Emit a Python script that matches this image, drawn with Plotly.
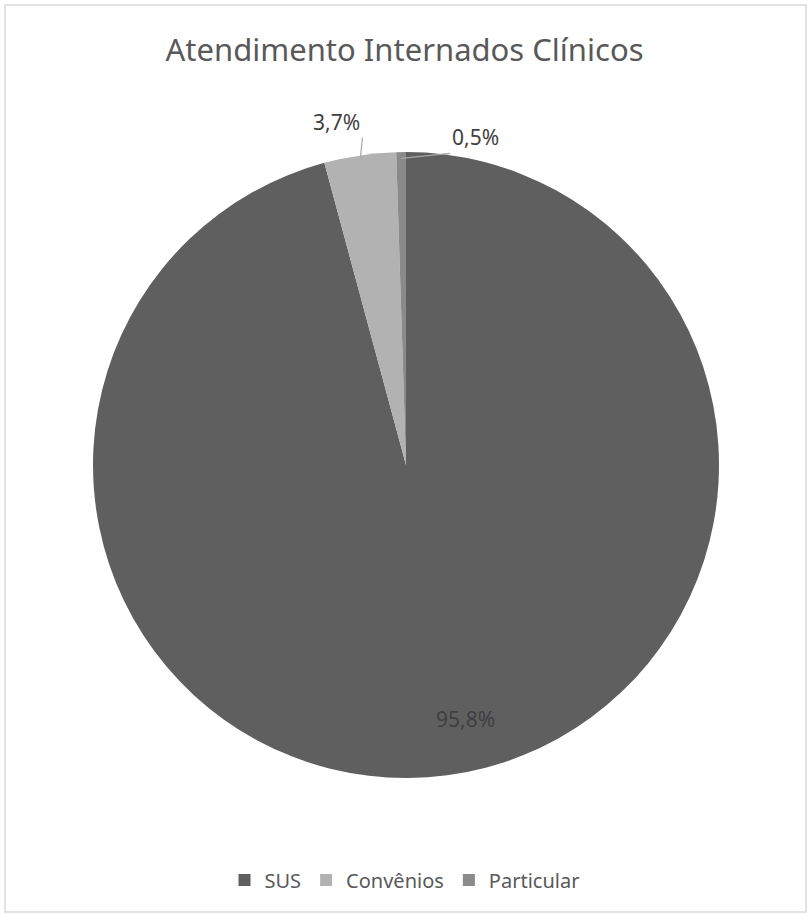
import math
import plotly.graph_objects as go

categories = ["SUS", "Convênios", "Particular"]
values = [95.8, 3.7, 0.5]
colors = ["#5f5f5f", "#b2b2b2", "#8a8a8a"]
title_text = "Atendimento Internados Clínicos"

W, H = 809, 915
cx, cy, r = 406, 465, 313
FONT = "Noto Sans"

fig = go.Figure(go.Pie(
    labels=categories,
    values=values,
    sort=False,
    direction="clockwise",
    rotation=0,
    marker=dict(colors=colors, line=dict(color="#ffffff", width=0)),
    textinfo="none",
    hoverinfo="label+percent",
    domain=dict(x=[(cx - r) / W, (cx + r) / W], y=[(H - cy - r) / H, (H - cy + r) / H]),
))

# label placement (derived from the data: mid-angle of each slice)
total = sum(values)
label_style = [
    # radial fraction, arrow?, ax, ay, xanchor, yanchor, xshift
    dict(rf=0.82, arrow=False, ax=0, ay=0, xa="center", ya="middle", xs=26),
    dict(rf=0.99, arrow=True, ax=2, ay=-21, xa="right", ya="bottom", xs=0),
    dict(rf=0.98, arrow=True, ax=49, ay=-5, xa="left", ya="bottom", xs=0),
]

annotations = []
cum = 0.0
for v, st in zip(values, label_style):
    mid = (cum + v / 2) / total
    cum += v
    th = 2 * math.pi * mid
    px = cx + st["rf"] * r * math.sin(th)
    py = cy - st["rf"] * r * math.cos(th)
    txt = f"{v / total * 100:.1f}%".replace(".", ",")
    a = dict(x=px / W, y=1 - py / H, xref="paper", yref="paper", text=txt,
             font=dict(family=FONT, size=21, color="#404040"),
             xanchor=st["xa"], yanchor=st["ya"], xshift=st["xs"],
             showarrow=st["arrow"])
    if st["arrow"]:
        a.update(ax=st["ax"], ay=st["ay"], arrowhead=0, arrowwidth=1.2,
                 arrowcolor="#a6a6a6", standoff=0, startstandoff=0)
    annotations.append(a)

fig.update_layout(
    width=W, height=H,
    margin=dict(l=0, r=0, t=0, b=0),
    separators=",.",
    paper_bgcolor="#ffffff",
    title=dict(text=title_text, x=0.5, xanchor="center", y=1 - 50 / H, yanchor="middle",
               font=dict(family=FONT, size=31, color="#595959")),
    legend=dict(orientation="h", x=0.5, xanchor="center", y=1 - 880 / H, yanchor="middle",
                font=dict(family=FONT, size=20, color="#595959"), traceorder="normal"),
    annotations=annotations,
    shapes=[dict(type="rect", xref="paper", yref="paper", x0=5 / W, x1=1 - 3 / W, y0=3 / H, y1=1 - 5 / H,
                 line=dict(color="#d9d9d9", width=1.5), fillcolor="rgba(0,0,0,0)", layer="below")],
)

fig.write_html("out.html")
